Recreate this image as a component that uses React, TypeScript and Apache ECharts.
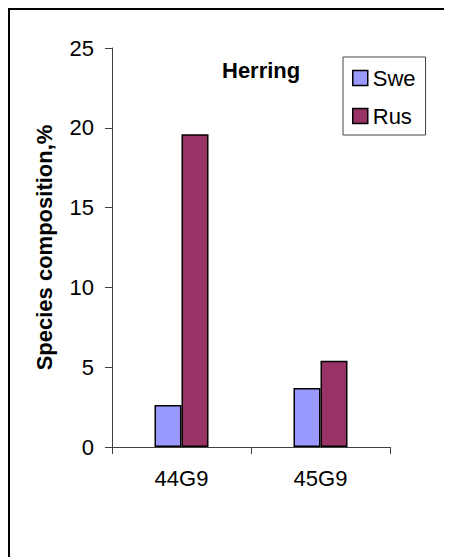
import React, { useEffect, useRef } from "react";
import * as echarts from "echarts";

const categories = ["44G9", "45G9"];
const sweValues = [2.63, 3.7];
const rusValues = [19.6, 5.4];
const seriesNames = ["Swe", "Rus"];
const chartTitle = "Herring";
const yAxisTitle = "Species composition,%";

const FONT = 'Arial, "Liberation Sans", sans-serif';

export default function App() {
  const ref = useRef<HTMLDivElement>(null);
  useEffect(() => {
    if (!ref.current) return;
    const chart = echarts.init(ref.current, null, { renderer: "svg" });
    chart.setOption({
      animation: false,
      backgroundColor: "#ffffff",
      title: {
        text: chartTitle,
        left: 214,
        top: 51,
        padding: 0,
        textStyle: { fontFamily: FONT, fontSize: 22, fontWeight: "bold", color: "#000" },
      },
      legend: {
        orient: "vertical",
        left: 335,
        top: 49,
        padding: [10, 10, 8, 9],
        itemWidth: 15,
        itemHeight: 15,
        itemGap: 16,
        icon: "rect",
        borderColor: "#444",
        borderWidth: 1,
        data: seriesNames,
        itemStyle: { borderColor: "#000", borderWidth: 1.5 },
        textStyle: { fontFamily: FONT, fontSize: 22, color: "#000" },
      },
      grid: { left: 104, top: 40, right: 62, bottom: 110, containLabel: false },
      xAxis: {
        type: "category",
        data: categories,
        axisLine: { show: true, lineStyle: { color: "#404040", width: 1 } },
        axisTick: { show: true, length: 7, lineStyle: { color: "#404040" } },
        axisLabel: { fontFamily: FONT, fontSize: 22, color: "#000", margin: 20 },
      },
      yAxis: {
        type: "value",
        min: 0,
        max: 25,
        interval: 5,
        name: yAxisTitle,
        nameLocation: "middle",
        nameGap: 57,
        nameTextStyle: { fontFamily: FONT, fontSize: 22, fontWeight: "bold", color: "#000" },
        axisLine: { show: true, lineStyle: { color: "#404040", width: 1 } },
        axisTick: { show: true, length: 7, lineStyle: { color: "#404040" } },
        axisLabel: { fontFamily: FONT, fontSize: 22, color: "#000", margin: 18 },
        splitLine: { show: false },
      },
      series: [
        {
          name: seriesNames[0],
          type: "bar",
          data: sweValues,
          barWidth: 27,
          barGap: "0%",
          itemStyle: { color: "#9999FF", borderColor: "#000", borderWidth: 1.5 },
        },
        {
          name: seriesNames[1],
          type: "bar",
          data: rusValues,
          barWidth: 27,
          barGap: "0%",
          itemStyle: { color: "#993366", borderColor: "#000", borderWidth: 1.5 },
        },
      ],
      graphic: [
        {
          type: "polyline",
          silent: true,
          shape: { points: [[1, 549], [1, 1], [444, 1]] },
          style: { stroke: "#000", lineWidth: 2, fill: null },
        },
      ],
    });
    return () => chart.dispose();
  }, []);
  return <div ref={ref} style={{ width: 444, height: 549 }} />;
}
